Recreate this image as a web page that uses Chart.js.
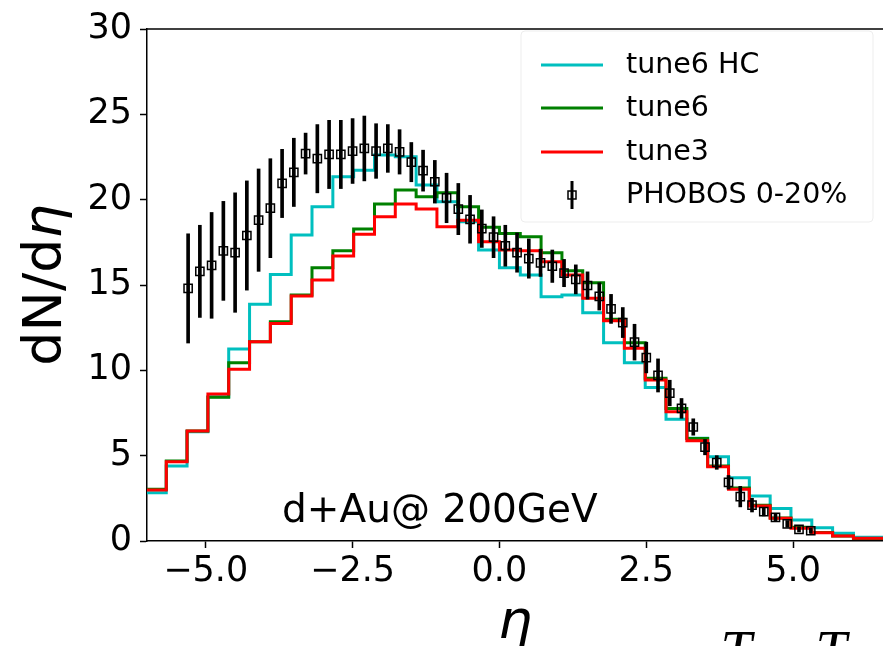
<!DOCTYPE html>
<html>
<head>
<meta charset="utf-8">
<style>
  html, body { margin: 0; padding: 0; background: #fff; overflow: hidden; }
</style>
<script src="https://cdn.jsdelivr.net/npm/chart.js@4.4.1/dist/chart.umd.min.js"></script>
</head>
<body>
<canvas id="chart" width="883" height="646"></canvas>
<script>
// bin edges in eta (histograms)
const binEdges = [-6.027, -5.672, -5.318, -4.963, -4.609, -4.254, -3.900, -3.545, -3.191,
  -2.836, -2.482, -2.127, -1.773, -1.418, -1.064, -0.709, -0.355, 0.000, 0.355, 0.709,
  1.064, 1.418, 1.773, 2.127, 2.482, 2.836, 3.191, 3.545, 3.900, 4.254, 4.609, 4.963,
  5.318, 5.672, 6.027, 6.381, 6.736];

// model histograms, one value per bin
const tune6HC = [2.83, 4.39, 6.40, 8.45, 11.25, 13.87, 15.62, 17.93, 19.59, 21.34, 21.73, 22.61,
  22.51, 20.86, 19.88, 18.71, 17.05, 16.01, 15.58, 14.31, 14.41, 13.37, 11.62, 10.45,
  9.00, 7.13, 6.02, 4.94, 3.71, 2.64, 1.91, 1.23, 0.78, 0.45, 0.22, 0.22];
const tune6 = [3.03, 4.69, 6.44, 8.42, 10.45, 11.68, 12.85, 14.41, 16.01, 17.01, 18.28, 19.74,
  20.56, 20.17, 20.41, 19.59, 18.38, 18.02, 17.83, 16.89, 15.83, 15.13, 12.99, 11.62,
  9.53, 7.77, 6.00, 4.40, 3.10, 2.10, 1.35, 0.80, 0.50, 0.30, 0.15, 0.15];
const tune3 = [2.99, 4.65, 6.44, 8.61, 10.06, 11.68, 12.75, 14.35, 15.29, 16.70, 17.97, 19.00,
  19.74, 19.45, 18.41, 18.80, 17.53, 17.05, 17.00, 16.36, 15.58, 14.22, 12.90, 11.29,
  9.43, 7.58, 5.87, 4.35, 3.03, 2.05, 1.33, 0.74, 0.49, 0.29, 0.16, 0.16];

// PHOBOS 0-20% data
const phobosEta = [-5.3, -5.1, -4.9, -4.7, -4.5, -4.3, -4.1, -3.9, -3.7, -3.5, -3.3, -3.1,
  -2.9, -2.7, -2.5, -2.3, -2.1, -1.9, -1.7, -1.5, -1.3, -1.1, -0.9, -0.7, -0.5, -0.3, -0.1,
  0.1, 0.3, 0.5, 0.7, 0.9, 1.1, 1.3, 1.5, 1.7, 1.9, 2.1, 2.3, 2.5, 2.7, 2.9, 3.1, 3.3,
  3.5, 3.7, 3.9, 4.1, 4.3, 4.5, 4.7, 4.9, 5.1, 5.3];
const phobosVal = [14.8, 15.8, 16.15, 17.0, 16.9, 17.9, 18.8, 19.5, 20.95, 21.6, 22.7, 22.4,
  22.65, 22.65, 22.85, 23.0, 22.85, 23.0, 22.8, 22.2, 21.7, 21.05, 20.1, 19.45, 18.85, 18.3, 17.8,
  17.3, 16.9, 16.55, 16.3, 16.1, 15.7, 15.33, 14.97, 14.33, 13.6, 12.8, 11.65, 10.75, 9.7, 8.67, 7.77, 6.68,
  5.5, 4.6, 3.44, 2.6, 2.1, 1.72, 1.39, 1.0, 0.68, 0.6];
const phobosErr = [3.2, 2.7, 3.1, 2.9, 3.5, 3.2, 3.0, 2.9, 2.0, 2.0, 1.2, 2.0,
  2.0, 2.0, 1.9, 1.9, 1.6, 1.4, 1.3, 1.15, 1.2, 1.25, 1.45, 1.5, 1.4, 1.1, 1.2,
  1.2, 1.15, 1.15, 0.8, 0.95, 0.8, 0.85, 0.8, 0.8, 0.85, 0.88, 1.05, 0.9, 0.97, 0.75, 0.58, 0.48,
  0.45, 0.4, 0.4, 0.6, 0.4, 0.25, 0.2, 0.2, 0.15, 0.15];

const xTicks = [-5, -2.5, 0, 2.5, 5];
const yTicks = [0, 5, 10, 15, 20, 25, 30];

const legendLabels = ["tune6 HC", "tune6", "tune3", "PHOBOS 0-20%"];
const annotation = "d+Au@ 200GeV";

const FONT = '"DejaVu Sans", sans-serif';

// histogram -> step points (value kept up to the next edge)
const stepPoints = (vals) => {
  const pts = vals.map((v, i) => ({ x: binEdges[i], y: v }));
  pts.push({ x: binEdges[vals.length], y: vals[vals.length - 1] });
  return pts;
};

const histo = (data, color, order) => ({
  type: "line",
  data: stepPoints(data),
  borderColor: color,
  borderWidth: 3,
  pointRadius: 0,
  stepped: true,
  fill: false,
  order: order,
});

// extra drawing: top spine, axis labels, text, legend
const decor = {
  id: "decor",
  afterDraw(chart) {
    const { ctx, chartArea: a, scales } = chart;
    const x = scales.x, y = scales.y;
    ctx.save();

    // top spine
    ctx.strokeStyle = "#000";
    ctx.lineWidth = 1.5;
    ctx.beginPath();
    ctx.moveTo(a.left - 0.75, a.top);
    ctx.lineTo(a.right, a.top);
    ctx.stroke();

    ctx.fillStyle = "#000";

    // y label dN/d eta
    ctx.save();
    ctx.translate(61, (a.top + a.bottom) / 2);
    ctx.rotate(-Math.PI / 2);
    ctx.textBaseline = "alphabetic";
    ctx.font = "54px " + FONT;
    const w1 = ctx.measureText("dN/d").width;
    ctx.font = "oblique 54px " + FONT;
    const w2 = ctx.measureText("η").width;
    const start = -(w1 + w2) / 2;
    ctx.font = "54px " + FONT;
    ctx.textAlign = "left";
    ctx.fillText("dN/d", start, 0);
    ctx.font = "oblique 54px " + FONT;
    ctx.fillText("η", start + w1, 0);
    ctx.restore();

    // x label eta
    ctx.font = "oblique 54px " + FONT;
    ctx.textAlign = "center";
    ctx.textBaseline = "alphabetic";
    ctx.fillText("η", (a.left + a.right) / 2, 638);

    // stray labels from the neighbouring panel
    ctx.font = 'italic 56px "Liberation Serif", serif';
    ctx.fillText("T", 736, 670);
    ctx.fillText("T", 831, 670);

    // annotation
    ctx.font = "39px " + FONT;
    ctx.textAlign = "left";
    ctx.textBaseline = "middle";
    ctx.fillText(annotation, x.getPixelForValue(-3.7), y.getPixelForValue(1.7));

    // legend frame (very faint)
    ctx.strokeStyle = "#ededed";
    ctx.lineWidth = 1;
    ctx.beginPath();
    ctx.roundRect(521, 31, 352, 191, 4);
    ctx.stroke();

    // legend entries
    const rows = [65, 108, 152, 195];
    const colors = ["#00bfbf", "#008000", "#ff0000"];
    ctx.lineWidth = 3;
    for (let i = 0; i < 3; i++) {
      ctx.strokeStyle = colors[i];
      ctx.beginPath();
      ctx.moveTo(541, rows[i]);
      ctx.lineTo(603, rows[i]);
      ctx.stroke();
    }
    // errorbar handle
    ctx.strokeStyle = "#000";
    ctx.lineWidth = 3;
    ctx.beginPath();
    ctx.moveTo(572, rows[3] - 14);
    ctx.lineTo(572, rows[3] + 14);
    ctx.stroke();
    ctx.lineWidth = 1.5;
    ctx.strokeRect(568, rows[3] - 4, 8, 8);

    ctx.font = "28.5px " + FONT;
    ctx.fillStyle = "#000";
    ctx.textAlign = "left";
    ctx.textBaseline = "middle";
    legendLabels.forEach((t, i) => ctx.fillText(t, 626, rows[i] + 1));

    ctx.restore();
  },
};

const ctx = document.getElementById("chart").getContext("2d");
const chart = new Chart(ctx, {
  type: "line",
  data: {
    datasets: [
      {
        type: "scatter",
        data: phobosEta.map((e, i) => ({ x: e, y: phobosVal[i] })),
        pointStyle: "rect",
        pointRadius: 5.8,
        borderColor: "#000",
        borderWidth: 1.5,
        backgroundColor: "rgba(0,0,0,0)",
        showLine: false,
        order: 0,
      },
      {
        type: "bar",
        data: phobosEta.map((e, i) => ({
          x: e,
          y: [phobosVal[i] - phobosErr[i], phobosVal[i] + phobosErr[i]],
        })),
        backgroundColor: "#000",
        borderWidth: 0,
        barThickness: 3,
        grouped: false,
        order: 1,
      },
      histo(tune3, "#ff0000", 2),
      histo(tune6, "#008000", 3),
      histo(tune6HC, "#00bfbf", 4),
    ],
  },
  options: {
    responsive: false,
    animation: false,
    devicePixelRatio: 1,
    layout: { autoPadding: false, padding: { top: 28, right: 0, left: 0, bottom: 0 } },
    plugins: { legend: { display: false }, tooltip: { enabled: false } },
    scales: {
      x: {
        type: "linear",
        min: -6.0,
        max: 6.53,
        offset: false,
        afterFit: (s) => { s.height = 105; },
        afterBuildTicks: (s) => { s.ticks = xTicks.map((v) => ({ value: v })); },
        grid: { offset: false, drawOnChartArea: false, color: "#000", tickLength: 7, tickWidth: 1.5 },
        border: { display: true, color: "#000", width: 1.5 },
        ticks: {
          color: "#000",
          font: { family: FONT, size: 35 },
          padding: 3,
          maxRotation: 0,
          callback: (v) => v.toFixed(1).replace("-", "\u2212"),
        },
      },
      y: {
        type: "linear",
        min: 0,
        max: 30,
        afterFit: (s) => { s.width = 147; },
        afterBuildTicks: (s) => { s.ticks = yTicks.map((v) => ({ value: v })); },
        grid: { offset: false, drawOnChartArea: false, color: "#000", tickLength: 7, tickWidth: 1.5 },
        border: { display: true, color: "#000", width: 1.5 },
        ticks: {
          color: "#000",
          font: { family: FONT, size: 35 },
          padding: 8,
          callback: (v) => String(v),
        },
      },
    },
  },
  plugins: [decor],
});
</script>
</body>
</html>
